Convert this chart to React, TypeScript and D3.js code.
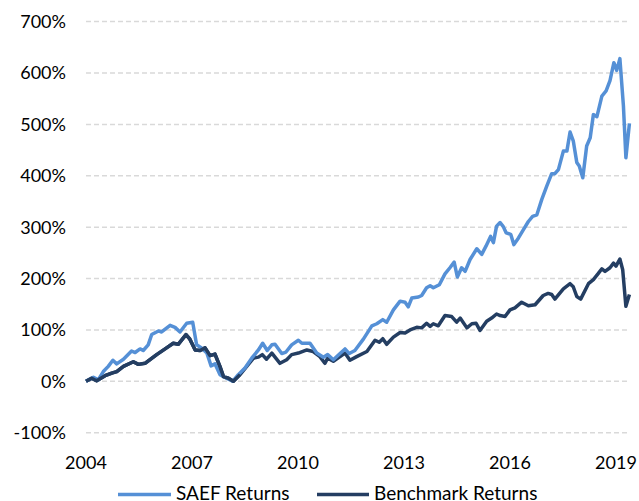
import React from "react";
import * as d3 from "d3";

const yTicks = [-100, 0, 100, 200, 300, 400, 500, 600, 700];
const xTickYears = [2004, 2007, 2010, 2013, 2016, 2019];

const saefYears = [0,0.21,0.35,0.49,0.63,0.76,0.87,1.06,1.29,1.39,1.53,1.62,1.76,1.86,2.05,2.14,2.38,2.52,2.66,2.85,3.02,3.13,3.27,3.42,3.54,3.65,3.79,3.98,4.15,4.31,4.5,4.69,4.88,5.0,5.13,5.26,5.35,5.54,5.66,5.82,6.01,6.11,6.34,6.53,6.72,6.84,7.0,7.19,7.33,7.45,7.61,7.85,8.09,8.23,8.4,8.51,8.7,8.89,9.03,9.12,9.22,9.41,9.5,9.64,9.74,9.83,10.0,10.16,10.3,10.42,10.51,10.63,10.73,10.87,11.06,11.2,11.32,11.45,11.53,11.62,11.72,11.81,11.89,12.02,12.11,12.24,12.38,12.52,12.64,12.76,12.9,13.04,13.18,13.27,13.37,13.51,13.61,13.7,13.79,13.89,13.96,14.06,14.17,14.27,14.36,14.46,14.6,14.72,14.83,14.94,15.02,15.11,15.21,15.28,15.38];
const saefValues = [0,8,3,19,29,41,34,43,59,56,63,60,71,91,98,96,109,105,96,113,115,71,65,55,30,34,13,6,0,13,26,45,61,74,60,71,72,54,57,71,80,74,74,55,47,52,42,54,63,54,60,82,108,112,120,115,139,156,154,145,162,164,167,182,186,182,188,209,221,232,203,221,214,237,258,247,263,282,270,302,309,301,289,286,266,279,295,311,321,324,354,380,404,404,412,448,448,485,468,426,419,396,458,474,519,515,555,565,585,620,605,628,536,435,502];

const benchYears = [0,0.16,0.3,0.54,0.73,0.87,1.06,1.34,1.48,1.67,2.0,2.28,2.47,2.61,2.83,2.94,3.09,3.23,3.37,3.51,3.65,3.79,3.89,4.03,4.17,4.36,4.55,4.74,4.88,4.99,5.11,5.26,5.49,5.68,5.82,6.01,6.25,6.43,6.62,6.76,6.84,7.0,7.19,7.33,7.47,7.66,7.95,8.18,8.3,8.4,8.51,8.7,8.89,9.03,9.17,9.36,9.5,9.64,9.74,9.83,9.97,10.16,10.35,10.49,10.59,10.78,10.92,11.04,11.15,11.34,11.48,11.62,11.72,11.86,12.0,12.14,12.33,12.52,12.71,12.94,13.08,13.18,13.27,13.51,13.7,13.79,13.89,14.0,14.22,14.36,14.5,14.6,14.69,14.83,14.93,15.0,15.11,15.19,15.28,15.38];
const benchValues = [0,6,1,11,16,19,29,38,33,35,52,65,74,72,91,82,61,60,65,50,53,29,9,6,0,13,29,45,47,52,43,55,35,42,52,55,61,58,48,35,45,39,48,55,41,48,58,80,76,83,72,86,95,94,100,105,104,113,107,112,108,128,126,115,123,104,112,113,99,117,123,131,128,126,139,143,154,147,149,167,171,169,160,180,190,184,165,160,190,198,210,219,214,221,230,224,238,217,146,169];

const seriesNames = ["SAEF Returns", "Benchmark Returns"];
const colors = ["#5590D6", "#243E62"];

const W = 639;
const H = 501;
const FONT = "Lato, 'Open Sans', sans-serif";

export default function App() {
  const x = d3.scaleLinear().domain([0, 15]).range([86, 616]);
  const y = d3.scaleLinear().domain([-100, 700]).range([432.7, 21.6]);
  const line = d3
    .line<[number, number]>()
    .x((d) => x(d[0]))
    .y((d) => y(d[1]))
    .curve(d3.curveLinear);

  const saef: [number, number][] = saefYears.map((t, i) => [t, saefValues[i]]);
  const bench: [number, number][] = benchYears.map((t, i) => [t, benchValues[i]]);

  return (
    <svg
      width={W}
      height={H}
      style={{ position: "absolute", left: 0, top: 0, background: "#fff" }}
      fontFamily={FONT}
    >
      {yTicks.map((v) => (
        <g key={v}>
          <line
            x1={86}
            x2={628}
            y1={y(v)}
            y2={y(v)}
            stroke="#D9D9D9"
            strokeWidth={1.5}
            strokeDasharray="5,3"
          />
          <text x={66} y={y(v) + 6.5} textAnchor="end" fontSize={18} fill="#000">
            {v}%
          </text>
        </g>
      ))}
      {xTickYears.map((yr) => (
        <text key={yr} x={x(yr - 2004)} y={468.5} textAnchor="middle" fontSize={18} fill="#000">
          {yr}
        </text>
      ))}
      <path d={line(bench) || ""} fill="none" stroke={colors[1]} strokeWidth={3.5} strokeLinejoin="round" />
      <path d={line(saef) || ""} fill="none" stroke={colors[0]} strokeWidth={3.5} strokeLinejoin="round" />
      <path
        d={line(bench.filter((d) => d[0] < 4.5)) || ""}
        fill="none"
        stroke={colors[1]}
        strokeWidth={3.5}
        strokeLinejoin="round"
      />
      <g>
        <line x1={118} x2={171} y1={494.5} y2={494.5} stroke={colors[0]} strokeWidth={3.5} />
        <text x={176} y={500} fontSize={19} fill="#000">
          {seriesNames[0]}
        </text>
        <line x1={317} x2={369} y1={494.5} y2={494.5} stroke={colors[1]} strokeWidth={3.5} />
        <text x={374} y={500} fontSize={19} fill="#000">
          {seriesNames[1]}
        </text>
      </g>
    </svg>
  );
}
